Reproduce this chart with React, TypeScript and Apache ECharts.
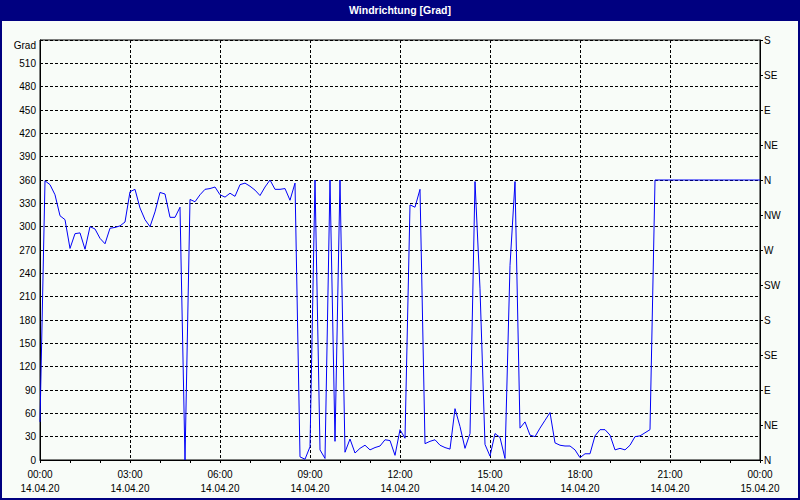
import React, { useEffect, useRef } from "react";
import * as echarts from "echarts";

// Wind direction [degrees], one reading every 10 minutes, 14.04.20 00:00 .. 15.04.20 00:00
const stepMinutes = 10;
const windDir = [
  49, 359, 354, 341, 314, 309, 272, 291, 292, 271,
  300, 297, 285, 278, 298, 299, 301, 306, 345, 348,
  324, 309, 300, 319, 344, 342, 312, 312, 325, 0,
  335, 332, 341, 348, 349, 351, 341, 338, 343, 339,
  354, 356, 352, 347, 340, 351, 360, 348, 348, 349,
  334, 356, 4, 1, 17, 360, 13, 2, 360, 24,
  360, 10, 27, 9, 15, 19, 13, 16, 18, 26,
  25, 6, 39, 28, 328, 325, 348, 21, 24, 26,
  19, 16, 14, 66, 43, 15, 34, 358, 220, 20,
  5, 34, 29, 2, 250, 358, 41, 49, 32, 30,
  41, 51, 61, 22, 19, 18, 18, 13, 3, 8,
  8, 31, 39, 39, 32, 13, 15, 13, 19, 30,
  31, 35, 39, 360, 360, 360, 360, 360, 360, 360,
  360, 360, 360, 360, 360, 360, 360, 360, 360, 360,
  360, 360, 360, 360, 360,
];

const timeLabels = ["00:00", "03:00", "06:00", "09:00", "12:00", "15:00", "18:00", "21:00", "00:00"];
const dateLabels = ["14.04.20", "14.04.20", "14.04.20", "14.04.20", "14.04.20", "14.04.20", "14.04.20", "14.04.20", "15.04.20"];
const compassLabels = ["N", "NE", "E", "SE", "S", "SW", "W", "NW", "N", "NE", "E", "SE", "S"];
const titleText = "Windrichtung [Grad]";
const unitText = "Grad";

const FONT = "'Liberation Sans', Arial, sans-serif";

export default function App() {
  const ref = useRef<HTMLDivElement>(null);
  useEffect(() => {
    if (!ref.current) return;
    const chart = echarts.init(ref.current, null, { renderer: "svg" });
    const data = windDir.map((v, i) => [i * stepMinutes, v]);
    chart.setOption({
      animation: false,
      backgroundColor: "#f8fcf8",
      textStyle: { fontFamily: FONT },
      grid: {
        left: 40,
        right: 40,
        top: 40,
        bottom: 40,
        show: true,
        borderColor: "#000",
        borderWidth: 1,
        backgroundColor: "transparent",
      },
      xAxis: {
        type: "value",
        min: 0,
        max: 1440,
        interval: 180,
        axisLine: { show: true, lineStyle: { color: "#000", width: 1 } },
        axisTick: { show: true, length: 3, lineStyle: { color: "#000" } },
        minorTick: { show: true, splitNumber: 3, length: 3, lineStyle: { color: "#000" } },
        splitLine: { show: true, lineStyle: { color: "#000", type: [3, 2], width: 1 } },
        axisLabel: {
          color: "#000",
          fontSize: 10,
          lineHeight: 14,
          margin: 7,
          fontFamily: FONT,
          formatter: (v: number) => {
            const idx = Math.round(v / 180);
            return `${timeLabels[idx]}\n${dateLabels[idx]}`;
          },
        },
      },
      yAxis: [
        {
          type: "value",
          min: 0,
          max: 540,
          interval: 30,
          position: "left",
          axisLine: { show: true, lineStyle: { color: "#000" } },
          axisTick: { show: false },
          splitLine: { show: true, lineStyle: { color: "#000", type: [3, 2], width: 1 } },
          axisLabel: {
            color: "#000",
            fontSize: 10,
            margin: 4,
            fontFamily: FONT,
            formatter: (v: number) => (v >= 540 ? "" : String(v)),
          },
        },
        {
          type: "value",
          min: 0,
          max: 540,
          interval: 45,
          position: "right",
          axisLine: { show: true, lineStyle: { color: "#000" } },
          axisTick: { show: true, length: 3, lineStyle: { color: "#000" } },
          splitLine: { show: false },
          axisLabel: {
            color: "#000",
            fontSize: 10,
            margin: 4,
            fontFamily: FONT,
            formatter: (v: number) => compassLabels[Math.round(v / 45)] ?? "",
          },
        },
      ],
      series: [
        {
          type: "line",
          yAxisIndex: 0,
          data,
          showSymbol: false,
          symbol: "none",
          lineStyle: { color: "#0000f8", width: 1 },
          z: 3,
        },
      ],
      graphic: [
        {
          type: "rect",
          shape: { x: 0, y: 0, width: 800, height: 21 },
          style: { fill: "#000080" },
          z: 10,
        },
        {
          type: "text",
          x: 400,
          y: 10,
          style: {
            text: titleText,
            fill: "#fff",
            font: `bold 10.5px ${FONT}`,
            textAlign: "center",
            textVerticalAlign: "middle",
          },
          z: 11,
        },
        {
          type: "text",
          x: 36,
          y: 45,
          style: {
            text: unitText,
            fill: "#000",
            font: `10px ${FONT}`,
            textAlign: "right",
            textVerticalAlign: "middle",
          },
          z: 11,
        },
        {
          type: "rect",
          shape: { x: 1, y: 1, width: 798, height: 498 },
          style: { fill: "none", stroke: "#000080", lineWidth: 2 },
          z: 12,
        },
      ],
    });
    return () => chart.dispose();
  }, []);
  return (
    <div
      ref={ref}
      style={{ position: "fixed", left: 0, top: 0, width: 800, height: 500 }}
    />
  );
}
